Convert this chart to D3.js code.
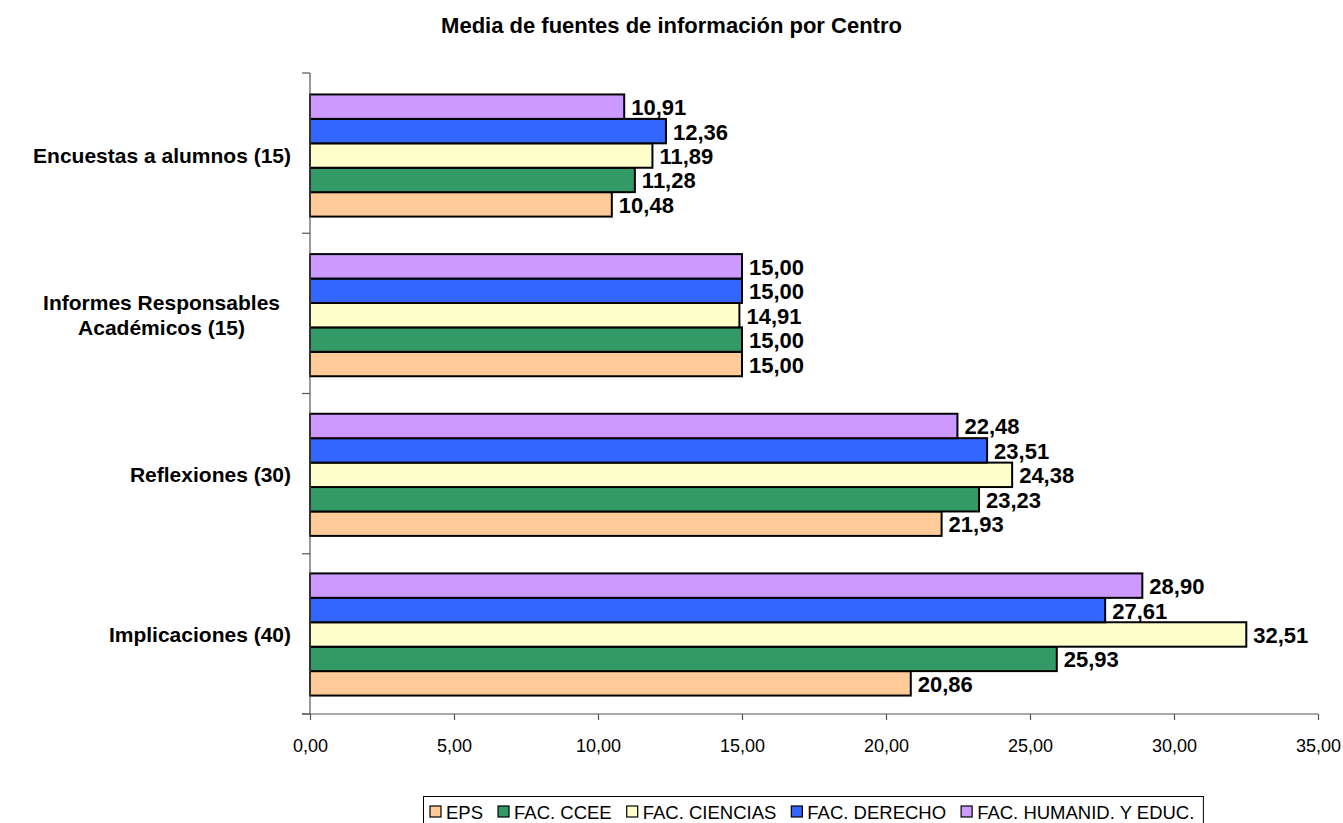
<!DOCTYPE html>
<html><head><meta charset="utf-8">
<script src="https://cdn.jsdelivr.net/npm/d3@7"></script>
<style>body{margin:0;background:#fff}svg{display:block}text{font-family:Arial,"Liberation Sans",sans-serif}</style>
</head><body>
<svg id="c" width="1343" height="823"></svg>
<script>
const categories = ["Encuestas a alumnos (15)", "Informes Responsables\nAcadémicos (15)", "Reflexiones (30)", "Implicaciones (40)"];
const seriesNames = ["EPS", "FAC. CCEE", "FAC. CIENCIAS", "FAC. DERECHO", "FAC. HUMANID. Y EDUC."];
const seriesColors = ["#FFCC99", "#339966", "#FFFFCC", "#3366FF", "#CC99FF"];
const EPS = [10.48, 15.00, 21.93, 20.86];
const CCEE = [11.28, 15.00, 23.23, 25.93];
const CIENCIAS = [11.89, 14.91, 24.38, 32.51];
const DERECHO = [12.36, 15.00, 23.51, 27.61];
const HUMANID = [10.91, 15.00, 22.48, 28.90];
const xTicks = [0, 5, 10, 15, 20, 25, 30, 35];
const title = "Media de fuentes de información por Centro";

const seriesValues = [EPS, CCEE, CIENCIAS, DERECHO, HUMANID];
const svg = d3.select("#c");
const fmt = v => d3.format(".2f")(v).replace(".", ",");

const x = d3.scaleLinear().domain([0, 35]).range([310, 1318]);
const y = d3.scaleBand().domain(categories).range([73, 714]).paddingInner(0.235).paddingOuter(0.125);
const sub = d3.scaleBand().domain(d3.range(5).reverse()).range([0, y.bandwidth()]);

svg.append("text").attr("x", 671.5).attr("y", 33).attr("text-anchor", "middle")
  .attr("font-size", 22).attr("font-weight", "bold").text(title);

categories.forEach((cat, ci) => {
  const g = svg.append("g").attr("transform", `translate(0,${y(cat) + 1.5})`);
  seriesValues.forEach((vals, si) => {
    g.append("rect").attr("x", x(0)).attr("y", sub(si)).attr("width", x(vals[ci]) - x(0))
      .attr("height", sub.bandwidth()).attr("fill", seriesColors[si]).attr("stroke", "#000").attr("stroke-width", 2);
    g.append("text").attr("x", x(vals[ci]) + 7).attr("y", sub(si) + sub.bandwidth() / 2 + 8.5)
      .attr("font-size", 22).attr("font-weight", "bold").text(fmt(vals[ci]));
  });
});

svg.append("line").attr("x1", 310).attr("x2", 310).attr("y1", 73).attr("y2", 714).attr("stroke", "#555").attr("stroke-width", 1.2);
const step = (714 - 73) / categories.length;
d3.range(categories.length + 1).forEach(i => {
  const yy = 73 + i * step;
  svg.append("line").attr("x1", 302).attr("x2", 310).attr("y1", yy).attr("y2", yy).attr("stroke", "#555").attr("stroke-width", 1.2);
});
categories.forEach(cat => {
  const lines = cat.split("\n");
  const cy = y(cat) + y.bandwidth() / 2 + 1.5;
  const t = svg.append("text").attr("font-size", 21).attr("font-weight", "bold");
  lines.forEach((l, i) => {
    t.append("tspan").attr("x", 0).attr("y", cy + 7.5 + (i - (lines.length - 1) / 2) * 25).text(l);
  });
  if (lines.length === 1) {
    t.attr("text-anchor", "end").selectAll("tspan").attr("x", 291);
  } else {
    const w = d3.max(t.selectAll("tspan").nodes(), n => n.getComputedTextLength());
    t.attr("text-anchor", "middle").selectAll("tspan").attr("x", 280 - w / 2);
  }
});

const xa = svg.append("g").attr("transform", "translate(0,714)")
  .call(d3.axisBottom(x).tickValues(xTicks).tickFormat(fmt).tickSizeInner(6).tickSizeOuter(0).tickPadding(19));
xa.select(".domain").remove();
xa.append("line").attr("x1", 302).attr("x2", 1318).attr("y1", 0).attr("y2", 0).attr("stroke", "#555").attr("stroke-width", 1.2);
xa.selectAll(".tick line").attr("stroke", "#555").attr("stroke-width", 1.2);
xa.selectAll(".tick text").attr("font-size", 18).attr("fill", "#000").attr("font-family", "Arial, 'Liberation Sans', sans-serif");

const lg = svg.append("g");
const box = lg.append("rect").attr("x", 423.5).attr("y", 796.5).attr("height", 40).attr("fill", "#fff").attr("stroke", "#000").attr("stroke-width", 1);
let lx = 430;
seriesNames.forEach((n, i) => {
  lg.append("rect").attr("x", lx).attr("y", 806).attr("width", 11).attr("height", 11)
    .attr("fill", seriesColors[i]).attr("stroke", "#000").attr("stroke-width", 1.2);
  const t = lg.append("text").attr("x", lx + 16).attr("y", 818.5).attr("font-size", 18.5).text(n);
  lx += 16 + t.node().getComputedTextLength() + 15;
});
box.attr("width", lx - 423.5 - 6);
</script>
</body></html>
